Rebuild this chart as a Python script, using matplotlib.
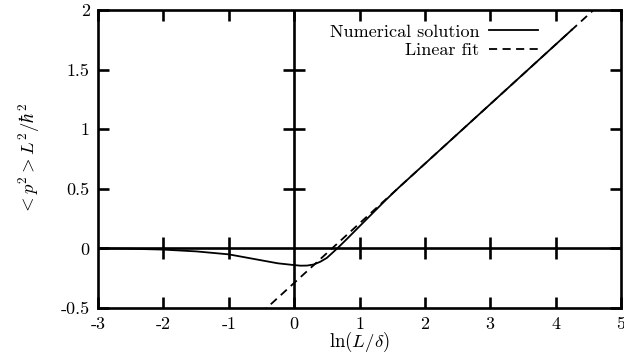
import numpy as np
import matplotlib
matplotlib.use("Agg")
import matplotlib.pyplot as plt

# ---- data ----
num_x = [-3.0, -2.5, -2.0, -1.5, -1.0, -0.75, -0.5, -0.25, 0.0, 0.1, 0.2, 0.3, 0.4, 0.5, 0.6, 0.66, 0.8, 1.0, 1.2, 1.4, 1.6, 2.0, 2.5, 3.0, 3.5, 4.0, 4.25]
num_y = [0.0, -0.003, -0.01, -0.025, -0.05, -0.075, -0.10, -0.125, -0.14, -0.145, -0.144, -0.135, -0.112, -0.08, -0.03, 0.0, 0.075, 0.185, 0.295, 0.405, 0.51, 0.71, 0.96, 1.21, 1.46, 1.71, 1.835]
fit_slope = 0.5
fit_intercept = -0.29
fit_x = [-3.0, 5.0]

xticks = [-3, -2, -1, 0, 1, 2, 3, 4, 5]
xticklabels = ["-3", "-2", "-1", "0", "1", "2", "3", "4", "5"]
yticks = [-0.5, 0, 0.5, 1, 1.5, 2]
yticklabels = ["-0.5", "0", "0.5", "1", "1.5", "2"]

plt.rcParams['font.family'] = 'serif'
plt.rcParams['font.serif'] = ['cmr10', 'DejaVu Serif']
plt.rcParams['mathtext.fontset'] = 'cm'
plt.rcParams['axes.formatter.use_mathtext'] = True
plt.rcParams['axes.unicode_minus'] = False

fig = plt.figure(figsize=(6.24, 3.58), dpi=100)
ax = fig.add_axes([98/624, 1-308/358, (621-98)/624, (308-10)/358])

lw_border = 1.9
ax.plot(num_x, num_y, color='black', lw=1.3, label='Numerical solution')
fy = [fit_slope*x + fit_intercept for x in fit_x]
ax.plot(fit_x, fy, color='black', lw=1.3, ls=(0, (4.5, 3)), label='Linear fit')

ax.axhline(0, color='black', lw=lw_border, zorder=1)
ax.axvline(0, color='black', lw=lw_border, zorder=1)
# crossing ticks on zero axes
inner_x = [t for t in xticks if t not in (xticks[0], xticks[-1], 0)]
inner_y = [t for t in yticks if t not in (yticks[0], yticks[-1], 0)]
ax.plot(inner_x, [0]*len(inner_x), ls='none', marker='|', ms=16, mew=lw_border, color='black')
ax.plot([0]*len(inner_y), inner_y, ls='none', marker='_', ms=16, mew=lw_border, color='black')

ax.set_xlim(-3, 5)
ax.set_ylim(-0.5, 2)
ax.set_xticks(xticks)
ax.set_xticklabels(xticklabels)
ax.set_yticks(yticks)
ax.set_yticklabels(yticklabels)
ax.tick_params(direction='in', length=8, width=lw_border, top=True, right=True,
               labelsize=13, pad=6)
for s in ax.spines.values():
    s.set_linewidth(lw_border)

ax.set_xlabel(r'$\ln(L/\delta)$', fontsize=13.5, labelpad=-1)
ax.set_ylabel(r'$<p^2>L^2/\hbar^2$', fontsize=13.5, labelpad=13)

leg = ax.legend(loc='upper right', bbox_to_anchor=(0.841, 1-14/298), frameon=False,
                markerfirst=False, handlelength=2.7, handletextpad=0.55,
                labelspacing=0.15, borderpad=0, borderaxespad=0, fontsize=13)

fig.savefig('out.png', dpi=100)
